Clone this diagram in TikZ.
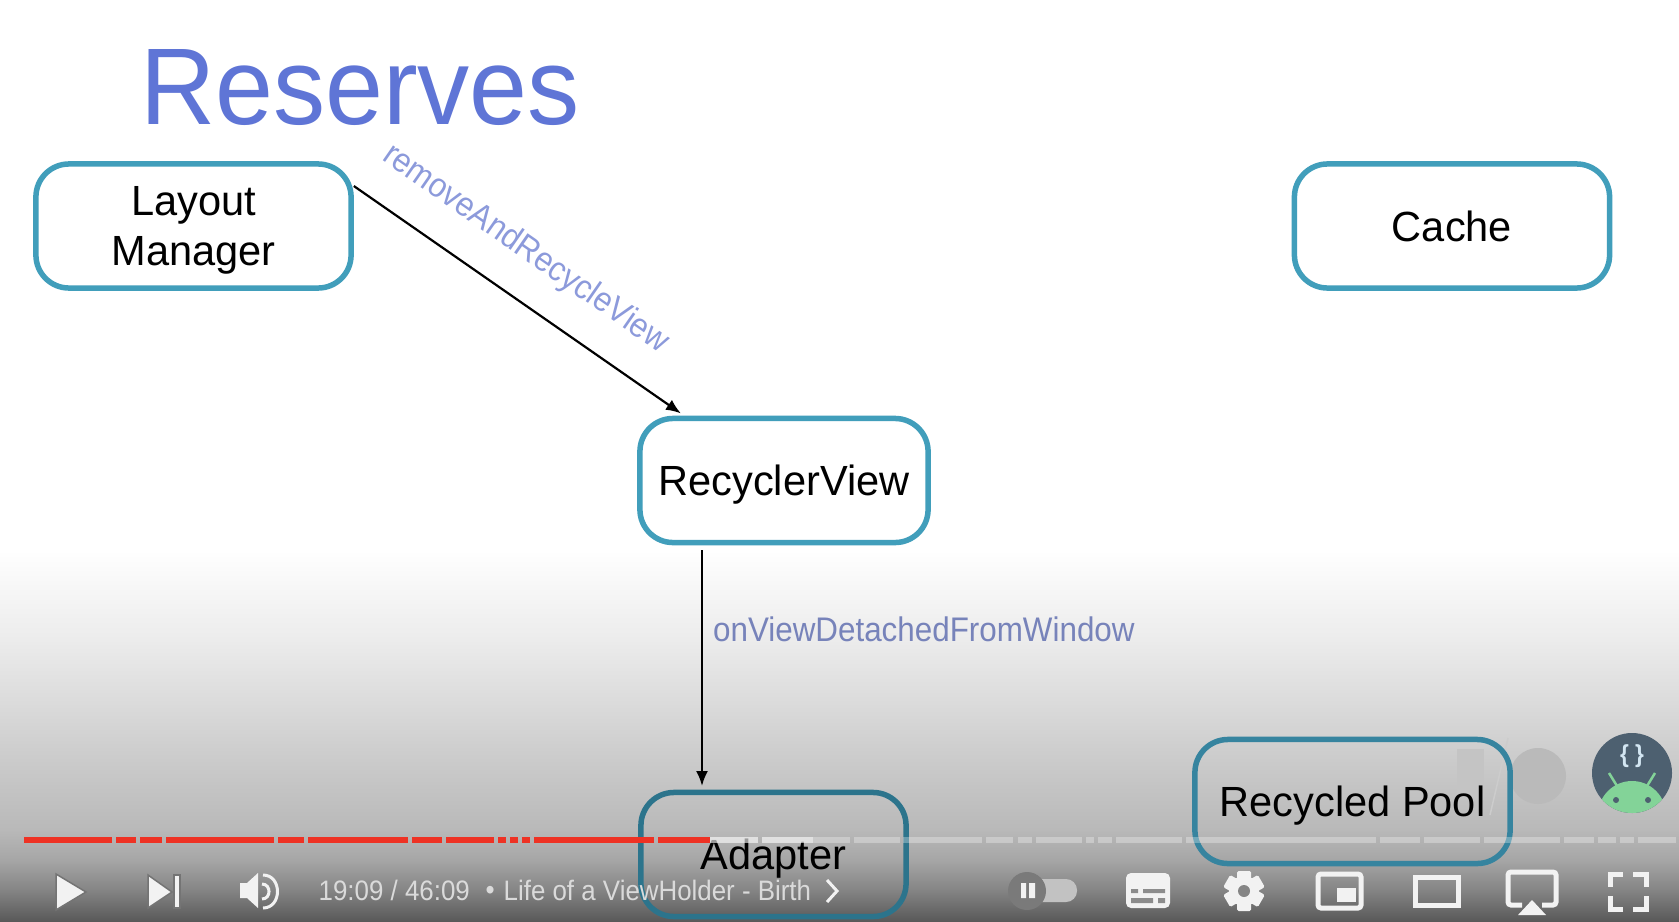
\documentclass[tikz,border=0pt]{standalone}
\usepackage{fontspec}
\setmainfont[FakeStretch=0.92]{Liberation Sans}
\newfontfamily\boxfont[FakeStretch=0.985]{Liberation Sans}
\newfontfamily\titlefont[FakeStretch=0.955]{Liberation Sans}
\usetikzlibrary{positioning,arrows.meta}
\definecolor{boxblue}{HTML}{419EBB}
\definecolor{pooledge}{HTML}{36849F}
\definecolor{adapteredge}{HTML}{2C748C}
\definecolor{titleblue}{HTML}{5F75D6}
\definecolor{labelblue}{HTML}{8C9ADB}
\definecolor{barred}{HTML}{EE3224}
\definecolor{iconwhite}{HTML}{F2F2F2}
\definecolor{iconedge}{HTML}{747474}
\definecolor{badgeslate}{HTML}{4D6070}
\definecolor{badgegreen}{HTML}{83D398}
\definecolor{badgebrace}{HTML}{D3E6F2}
\pgfdeclareverticalshading{slidefade}{100bp}{
	rgb(0bp)=(0.33,0.33,0.33);
	rgb(25bp)=(0.35,0.35,0.35);
	rgb(29.2bp)=(0.52,0.52,0.52);
	rgb(33.2bp)=(0.65,0.65,0.65);
	rgb(37.3bp)=(0.725,0.725,0.725);
	rgb(46.7bp)=(0.796,0.796,0.796);
	rgb(52.1bp)=(0.84,0.84,0.84);
	rgb(62.9bp)=(0.925,0.925,0.925);
	rgb(71bp)=(0.975,0.975,0.975);
	rgb(75bp)=(1,1,1);
	rgb(100bp)=(1,1,1)}
\tikzset{
	slide box/.style={draw=boxblue,rounded corners=0.33cm,line width=0.055cm,minimum width=#1,minimum height=1.24cm,inner sep=0pt,align=center,text depth=0pt,font=\boxfont\fontsize{12}{14.2}\selectfont},
	slide box/.default=3.15cm,
	call arrow/.style={-{Latex[length=0.15cm,width=0.12cm]},line width=0.022cm,black},
	call label/.style={text=labelblue,font=\fontsize{9.7}{12}\selectfont,inner sep=0.1cm},
	player text/.style={text=iconwhite!90!black,inner sep=0pt,anchor=west,font=\fontsize{8}{10}\selectfont},
	player fill/.style={fill=iconwhite,draw=iconedge,line width=0.015cm},
	player line/.style={draw=iconwhite,line width=0.05cm},
}

\begin{document}
\begin{tikzpicture}[x=0.01cm,y=-0.01cm]
	\useasboundingbox (0,0) rectangle (1679,921);
	\fill[white] (0,0) rectangle (1679,921);
	\shade[shading=slidefade] (0,550) rectangle (1679,921);

	% faint logo behind the pool box
	\fill[black!23] (1457,749) rectangle (1484,800);
	\draw[black!20,line width=0.015cm] (1508,738) -- (1490,815);
	\fill[black!27] (1538,776) circle (28);

	\node[titleblue,inner sep=0pt,font=\titlefont\fontsize{31}{36}\selectfont] (title) at (360,88) {Reserves};

	\node[slide box] (layout) at (193.5,226) {Layout\\Manager};
	\node[slide box] (cache) at (1452,226) {Cache};
	\node[slide box=2.88cm] (recycler) at (784,480.5) {RecyclerView};
	\node[slide box=2.65cm,draw=adapteredge] (adapter) at (773.5,854.5) {Adapter};
	\node[slide box,draw=pooledge] (pool) at (1352.5,801.5) {Recycled Pool};
	\coordinate (adapterin) at (702,791);

	\path
		(layout.14) edge [call arrow,shorten >=0.04cm] node [pos=.44,sloped,above=0.19cm,call label] (removelabel) {removeAndRecycleView} (recycler.147.5)
		(recycler.south -| adapterin) edge [call arrow,shorten <=0.05cm,shorten >=0.05cm] node [pos=.34,right,call label,text=labelblue!85!black] (detachlabel) {onViewDetachedFromWindow} (adapterin);

	% seek bar
	\foreach \a/\b in {813/850,854/900,903/982,986/1013,1018/1032,1036/1082,1086/1094,1098/1112,1116/1182,1186/1376,1380/1420,1424/1480,1484/1560,1564/1594,1598/1616,1620/1634,1638/1676}
		\fill[white,opacity=0.3] (\a,837) rectangle (\b,843);
	\foreach \a/\b in {710/758,762/813}
		\fill[white,opacity=0.6] (\a,837) rectangle (\b,843);
	\foreach \a/\b in {24/112,116/136,140/162,166/274,278/304,308/408,412/442,446/494,498/506,510/518,522/530,534/654,658/710}
		\fill[barred] (\a,837) rectangle (\b,843);

	% player buttons, left
	\filldraw[player fill] (56,874) -- (86,892) -- (56,910) -- cycle;
	\filldraw[player fill] (148,875) -- (172,892) -- (148,908) -- cycle;
	\filldraw[player fill] (174,875) rectangle (180,908);
	\fill[iconwhite] (240,883) -- (247,883) -- (258,873) -- (258,908) -- (247,898) -- (240,898) -- cycle;
	\draw[iconwhite,line width=0.03cm] (262,884) to[out=0,in=0,looseness=1.6] (262,899);
	\draw[iconwhite,line width=0.03cm] (263,875) to[out=0,in=0,looseness=1.5] (263,908);
	\node[player text] (clock) at (318,890) {19:09 / 46:09};
	\node[player text] (dot) at (485,893) {•};
	\node[player text] (chapter) at (503,890) {Life of a ViewHolder - Birth};
	\draw[iconwhite,line width=0.03cm] (827,880) -- (837,891) -- (827,902);

	% player buttons, right
	\fill[black!24,rounded corners=0.11cm] (1030,879) rectangle (1077,902);
	\fill[black!52] (1027,891) circle (19);
	\fill[iconwhite] (1021,883) rectangle (1026,898) (1029,883) rectangle (1035,898);
	\fill[iconwhite,rounded corners=0.05cm] (1126,873) rectangle (1170,908);
	\fill[black!45] (1131,889) rectangle (1138,893) (1143,889) rectangle (1165,893) (1131,898) rectangle (1153,903) (1158,898) rectangle (1165,903);
	\fill[iconwhite] (1244,891) circle (15);
	\foreach \r in {0,60,...,300}
		\fill[iconwhite,rotate around={\r:(1244,891)},rounded corners=0.015cm] (1237,871) rectangle (1251,885);
	\fill[black!48] (1244,891) circle (6);
	\draw[player line,rounded corners=0.03cm] (1318,874) rectangle (1361,908);
	\fill[iconwhite] (1337,888) rectangle (1356,902);
	\draw[player line] (1415,877) rectangle (1458,905);
	\draw[player line,rounded corners=0.03cm] (1522,905) -- (1508,905) -- (1508,872) -- (1556,872) -- (1556,905) -- (1542,905);
	\fill[iconwhite] (1518,915) -- (1532,900) -- (1546,915) -- cycle;
	\draw[player line] (1610,887) -- (1610,874) -- (1623,874) (1633,874) -- (1646,874) -- (1646,887) (1646,896) -- (1646,909) -- (1633,909) (1623,909) -- (1610,909) -- (1610,896);

	% channel badge
	\fill[badgeslate] (1632,773) circle (40);
	\begin{scope}
		\clip (1632,773) circle (40);
		\fill[badgegreen] (1632,815) circle (34);
	\end{scope}
	\draw[badgegreen,line width=0.025cm] (1609,773) -- (1617,786) (1655,773) -- (1647,786);
	\fill[badgeslate] (1616,800) circle (3) (1648,800) circle (3);
	\node[text=badgebrace,inner sep=0pt,font=\fontsize{7}{8}\selectfont\bfseries] (brace) at (1632,756) {\{ \}};
\end{tikzpicture}
\end{document}
